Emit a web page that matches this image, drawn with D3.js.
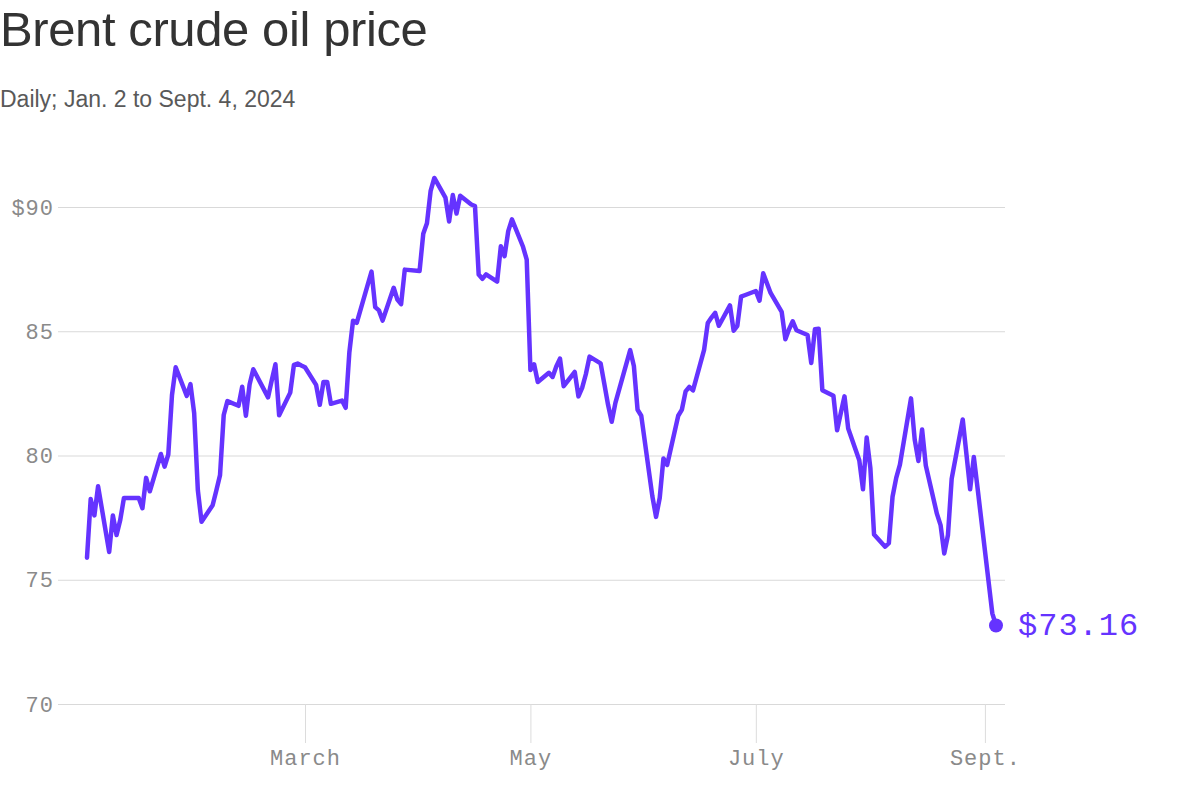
<!DOCTYPE html>
<html>
<head>
<meta charset="utf-8">
<script src="https://cdn.jsdelivr.net/npm/d3@7"></script>
<style>
  html, body { margin: 0; padding: 0; background: #fff; }
  svg { display: block; }
</style>
</head>
<body>
<svg id="chart" width="1200" height="812"></svg>
<script>
// ---- Data ----
const titleText = "Brent crude oil price";
const subtitleText = "Daily; Jan. 2 to Sept. 4, 2024";

const dates = [
  "2024-01-02","2024-01-03","2024-01-04","2024-01-05","2024-01-08","2024-01-09","2024-01-10","2024-01-11","2024-01-12",
  "2024-01-15","2024-01-16","2024-01-17","2024-01-18","2024-01-19","2024-01-22","2024-01-23","2024-01-24","2024-01-25",
  "2024-01-26","2024-01-29","2024-01-30","2024-01-31","2024-02-01","2024-02-02","2024-02-05","2024-02-06","2024-02-07",
  "2024-02-08","2024-02-09","2024-02-12","2024-02-13","2024-02-14","2024-02-15","2024-02-16","2024-02-20","2024-02-21",
  "2024-02-22","2024-02-23","2024-02-26","2024-02-27","2024-02-28","2024-02-29","2024-03-01","2024-03-04","2024-03-05",
  "2024-03-06","2024-03-07","2024-03-08","2024-03-11","2024-03-12","2024-03-13","2024-03-14","2024-03-15","2024-03-18",
  "2024-03-19","2024-03-20","2024-03-21","2024-03-22","2024-03-25","2024-03-26","2024-03-27","2024-03-28","2024-04-01",
  "2024-04-02","2024-04-03","2024-04-04","2024-04-05","2024-04-08","2024-04-09","2024-04-10","2024-04-11","2024-04-12",
  "2024-04-15","2024-04-16","2024-04-17","2024-04-18","2024-04-19","2024-04-22","2024-04-23","2024-04-24","2024-04-25",
  "2024-04-26","2024-04-29","2024-04-30","2024-05-01","2024-05-02","2024-05-03","2024-05-06","2024-05-07","2024-05-08",
  "2024-05-09","2024-05-10","2024-05-13","2024-05-14","2024-05-15","2024-05-16","2024-05-17","2024-05-20","2024-05-21",
  "2024-05-22","2024-05-23","2024-05-24","2024-05-28","2024-05-29","2024-05-30","2024-05-31","2024-06-03","2024-06-04",
  "2024-06-05","2024-06-06","2024-06-07","2024-06-10","2024-06-11","2024-06-12","2024-06-13","2024-06-14","2024-06-17",
  "2024-06-18","2024-06-19","2024-06-20","2024-06-21","2024-06-24","2024-06-25","2024-06-26","2024-06-27","2024-06-28",
  "2024-07-01","2024-07-02","2024-07-03","2024-07-05","2024-07-08","2024-07-09","2024-07-10","2024-07-11","2024-07-12",
  "2024-07-15","2024-07-16","2024-07-17","2024-07-18","2024-07-19","2024-07-22","2024-07-23","2024-07-24","2024-07-25",
  "2024-07-26","2024-07-29","2024-07-30","2024-07-31","2024-08-01","2024-08-02","2024-08-05","2024-08-06","2024-08-07",
  "2024-08-08","2024-08-09","2024-08-12","2024-08-13","2024-08-14","2024-08-15","2024-08-16","2024-08-19","2024-08-20",
  "2024-08-21","2024-08-22","2024-08-23","2024-08-26","2024-08-27","2024-08-28","2024-08-29","2024-08-30",
  "2024-09-03","2024-09-04"
];

const prices = [
  75.89,78.25,77.59,78.76,76.12,77.59,76.80,77.41,78.29,
  78.29,78.29,77.88,79.10,78.56,80.06,79.55,80.04,82.43,
  83.55,82.40,82.87,81.71,78.60,77.33,78.00,78.59,79.21,
  81.63,82.19,82.00,82.77,81.60,82.86,83.47,82.34,83.03,
  83.67,81.62,82.53,83.65,83.70,83.62,83.55,82.84,82.04,
  82.96,82.96,82.08,82.21,81.92,84.15,85.42,85.34,86.89,
  87.40,85.97,85.84,85.43,86.75,86.27,86.09,87.48,87.42,
  88.92,89.35,90.65,91.17,90.38,89.42,90.48,89.74,90.45,
  90.10,90.04,87.28,87.11,87.29,87.00,88.42,88.02,89.03,
  89.50,88.40,87.88,83.44,83.67,82.96,83.33,83.16,83.58,
  83.90,82.79,83.36,82.38,82.72,83.27,83.98,83.71,82.88,
  82.05,81.36,82.12,84.24,83.60,81.84,81.60,78.36,77.53,
  78.30,79.88,79.62,81.60,81.85,82.58,82.76,82.62,84.25,
  85.33,85.55,85.74,85.22,86.04,85.02,85.22,86.39,86.45,
  86.62,86.23,87.33,86.54,85.78,84.68,85.08,85.40,85.04,
  84.85,83.72,85.08,85.10,82.63,82.40,81.02,81.71,82.38,
  81.09,79.81,78.64,80.72,79.50,76.82,76.33,76.47,78.34,
  79.10,79.63,82.30,80.64,79.78,81.05,79.60,77.66,77.20,
  76.06,76.80,79.06,81.45,80.05,78.64,79.94,78.70,
  73.65,73.16
];

const yTicks = [70, 75, 80, 85, 90];
const yTickLabels = ["70", "75", "80", "85", "$90"];
const xTickDates = ["2024-03-01", "2024-05-01", "2024-07-01", "2024-09-01"];
const xTickLabels = ["March", "May", "July", "Sept."];
const lastLabel = "$73.16";

// ---- Chart ----
const parse = d3.timeParse("%Y-%m-%d");
const data = dates.map((d, i) => ({ date: parse(d), value: prices[i] }));

const svg = d3.select("#chart");
const lineColor = "#6533ff";
const monoFont = "'Liberation Mono', 'DejaVu Sans Mono', monospace";

const x = d3.scaleTime()
  .domain([parse("2024-01-02"), parse("2024-09-04")])
  .range([87, 996]);
const y = d3.scaleLinear()
  .domain([70, 90])
  .range([704, 207]);

// Title & subtitle
svg.append("text")
  .attr("x", 0).attr("y", 46)
  .attr("font-family", "'Liberation Sans', Arial, sans-serif")
  .attr("font-size", 49)
  .attr("fill", "#333")
  .attr("letter-spacing", "-0.4")
  .text(titleText);

svg.append("text")
  .attr("x", 0).attr("y", 107)
  .attr("font-family", "'Liberation Sans', Arial, sans-serif")
  .attr("font-size", 23)
  .attr("fill", "#595959")
  .text(subtitleText);

// Y axis with gridlines
const yAxis = svg.append("g")
  .attr("transform", "translate(58,0)")
  .call(d3.axisLeft(y)
    .tickValues(yTicks)
    .tickSize(-947)
    .tickPadding(4)
    .tickFormat((d, i) => yTickLabels[i]));
yAxis.select(".domain").remove();
yAxis.selectAll(".tick line").attr("stroke", "#d9d9d9").attr("stroke-width", 1);
yAxis.selectAll(".tick text")
  .attr("font-family", monoFont)
  .attr("font-size", 22)
  .attr("letter-spacing", "1")
  .attr("fill", "#8a8a8a");

// X axis
const xAxis = svg.append("g")
  .attr("transform", "translate(0,704)")
  .call(d3.axisBottom(x)
    .tickValues(xTickDates.map(parse))
    .tickSize(39)
    .tickPadding(6)
    .tickFormat((d, i) => xTickLabels[i]));
xAxis.select(".domain").remove();
xAxis.selectAll(".tick line").attr("stroke", "#dcdcdc").attr("stroke-width", 1);
xAxis.selectAll(".tick text")
  .attr("font-family", monoFont)
  .attr("font-size", 22)
  .attr("letter-spacing", "1")
  .attr("fill", "#8a8a8a");

// Line
const line = d3.line()
  .x(d => x(d.date))
  .y(d => y(d.value));

svg.append("path")
  .datum(data)
  .attr("fill", "none")
  .attr("stroke", lineColor)
  .attr("stroke-width", 4.5)
  .attr("stroke-linejoin", "round")
  .attr("stroke-linecap", "round")
  .attr("d", line);

// End point
const last = data[data.length - 1];
svg.append("circle")
  .attr("cx", x(last.date))
  .attr("cy", y(last.value))
  .attr("r", 7)
  .attr("fill", lineColor);

svg.append("text")
  .attr("x", x(last.date) + 22)
  .attr("y", y(last.value) + 10)
  .attr("font-family", monoFont)
  .attr("font-size", 32)
  .attr("letter-spacing", "1")
  .attr("fill", lineColor)
  .text(lastLabel);
</script>
</body>
</html>
